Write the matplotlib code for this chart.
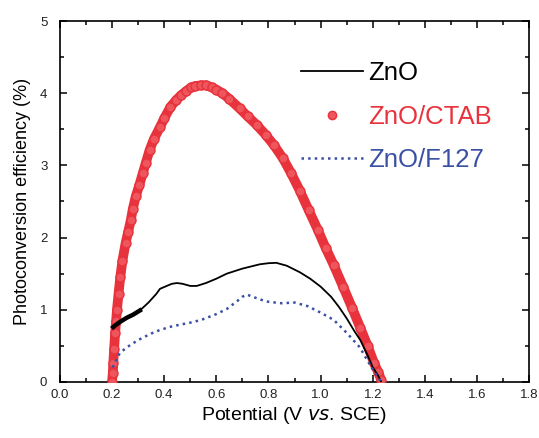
import numpy as np
import matplotlib
matplotlib.use('Agg')
import matplotlib.pyplot as plt
from matplotlib.lines import Line2D
from matplotlib.ticker import MultipleLocator

plt.rcParams['font.family'] = ['Liberation Sans', 'DejaVu Sans']

# 数据
v_zno = [0.205, 0.211, 0.23, 0.257, 0.28, 0.307, 0.34, 0.37, 0.384, 0.41, 0.43, 0.449,
         0.47, 0.50, 0.525, 0.56, 0.60, 0.64, 0.70, 0.767, 0.80, 0.83, 0.87, 0.92, 0.96,
         1.0, 1.04, 1.07, 1.10, 1.13, 1.152, 1.18, 1.2, 1.22, 1.232]
e_zno = [0.76, 0.78, 0.83, 0.89, 0.93, 0.99, 1.10, 1.22, 1.29, 1.33, 1.36, 1.37,
         1.36, 1.33, 1.33, 1.37, 1.43, 1.50, 1.57, 1.63, 1.645, 1.65, 1.61, 1.52, 1.43,
         1.32, 1.18, 1.04, 0.88, 0.70, 0.58, 0.37, 0.20, 0.09, 0.0]

v_ctab = [0.200, 0.203, 0.205, 0.208, 0.212, 0.216, 0.219, 0.225, 0.232, 0.24, 0.252,
          0.262, 0.272, 0.28, 0.291, 0.305, 0.318, 0.33, 0.344, 0.36, 0.384, 0.40, 0.424,
          0.445, 0.464, 0.485, 0.503, 0.52, 0.543, 0.56, 0.583, 0.60, 0.623, 0.65, 0.689,
          0.72, 0.755, 0.79, 0.821, 0.855, 0.887, 0.92, 0.954, 0.99, 1.020, 1.05, 1.086,
          1.12, 1.152, 1.18, 1.205, 1.22, 1.232]
e_ctab = [0.0, 0.12, 0.26, 0.45, 0.68, 0.85, 1.0, 1.22, 1.46, 1.68, 1.92,
          2.08, 2.24, 2.40, 2.57, 2.73, 2.89, 3.04, 3.21, 3.36, 3.53, 3.65, 3.81,
          3.90, 3.97, 4.03, 4.08, 4.10, 4.11, 4.11, 4.08, 4.05, 4.0, 3.92, 3.79,
          3.68, 3.56, 3.42, 3.28, 3.10, 2.89, 2.65, 2.38, 2.10, 1.85, 1.62, 1.32,
          1.03, 0.75, 0.50, 0.26, 0.14, 0.03]

v_f127 = [0.203, 0.211, 0.23, 0.257, 0.30, 0.35, 0.384, 0.43, 0.47, 0.512, 0.55, 0.60,
          0.64, 0.68, 0.70, 0.717, 0.74, 0.77, 0.80, 0.85, 0.90, 0.95, 1.0, 1.05, 1.10,
          1.15, 1.2, 1.232]
e_f127 = [0.20, 0.27, 0.40, 0.48, 0.58, 0.67, 0.72, 0.77, 0.80, 0.83, 0.87, 0.94,
          1.01, 1.12, 1.18, 1.21, 1.18, 1.14, 1.11, 1.09, 1.10, 1.05, 0.96, 0.86, 0.68,
          0.48, 0.17, 0.0]

labels = ['ZnO', 'ZnO/CTAB', 'ZnO/F127']
c_red = '#e8323c'
c_blue = '#3a50a4'

fig = plt.figure(figsize=(5.39, 4.38), dpi=100)
ax = fig.add_axes([0.111, 0.128, 0.871, 0.824])

# 红色 CTAB: 密集圆点
ax.plot(v_ctab, e_ctab, color=c_red, lw=7, solid_capstyle='round', zorder=2)
ax.plot(v_ctab, e_ctab, 'o', ms=6.5, mfc='#ee555c', mec=c_red, mew=1.0, zorder=3)
ax.plot(v_zno, e_zno, color='black', lw=1.3, zorder=4)
ax.plot(v_zno[:6], e_zno[:6], color='black', lw=3.2, zorder=4)
ax.plot(v_f127, e_f127, color=c_blue, lw=1.8, ls=':', zorder=4)

ax.set_xlim(0, 1.8)
ax.set_ylim(0, 5)
ax.xaxis.set_major_locator(MultipleLocator(0.2))
ax.xaxis.set_minor_locator(MultipleLocator(0.1))
ax.yaxis.set_major_locator(MultipleLocator(1))
ax.yaxis.set_minor_locator(MultipleLocator(0.5))
ax.set_xticks(np.arange(0, 1.81, 0.2))
ax.set_xticklabels([f'{t:.1f}' for t in np.arange(0, 1.81, 0.2)])
ax.tick_params(which='both', direction='in', top=True, right=True, width=1.1,
               labelsize=9.5, labelcolor='#222222')
ax.tick_params(which='major', length=5)
ax.tick_params(which='minor', length=3)
ax.tick_params(axis='y', pad=9)
ax.tick_params(axis='x', pad=5)
for s in ax.spines.values():
    s.set_linewidth(1.2)

ax.set_xlabel('Potential (V $\\it{vs}$. SCE)', fontsize=14, labelpad=3)
ax.set_ylabel('Photoconversion efficiency (%)', fontsize=13, labelpad=6)

handles = [Line2D([], [], color='black', lw=1.3),
           Line2D([], [], ls='none', marker='o', ms=6, mfc='#ee555c', mec=c_red),
           Line2D([], [], color=c_blue, lw=1.8, ls=':')]
ax.legend(handles, labels, loc='upper left', bbox_to_anchor=(0.465, 0.952), frameon=False,
          fontsize=18.5, handlelength=2.4, handletextpad=0.2, labelspacing=0.75,
          labelcolor=['black', c_red, c_blue])

plt.savefig('out.png', dpi=100, facecolor='white')
